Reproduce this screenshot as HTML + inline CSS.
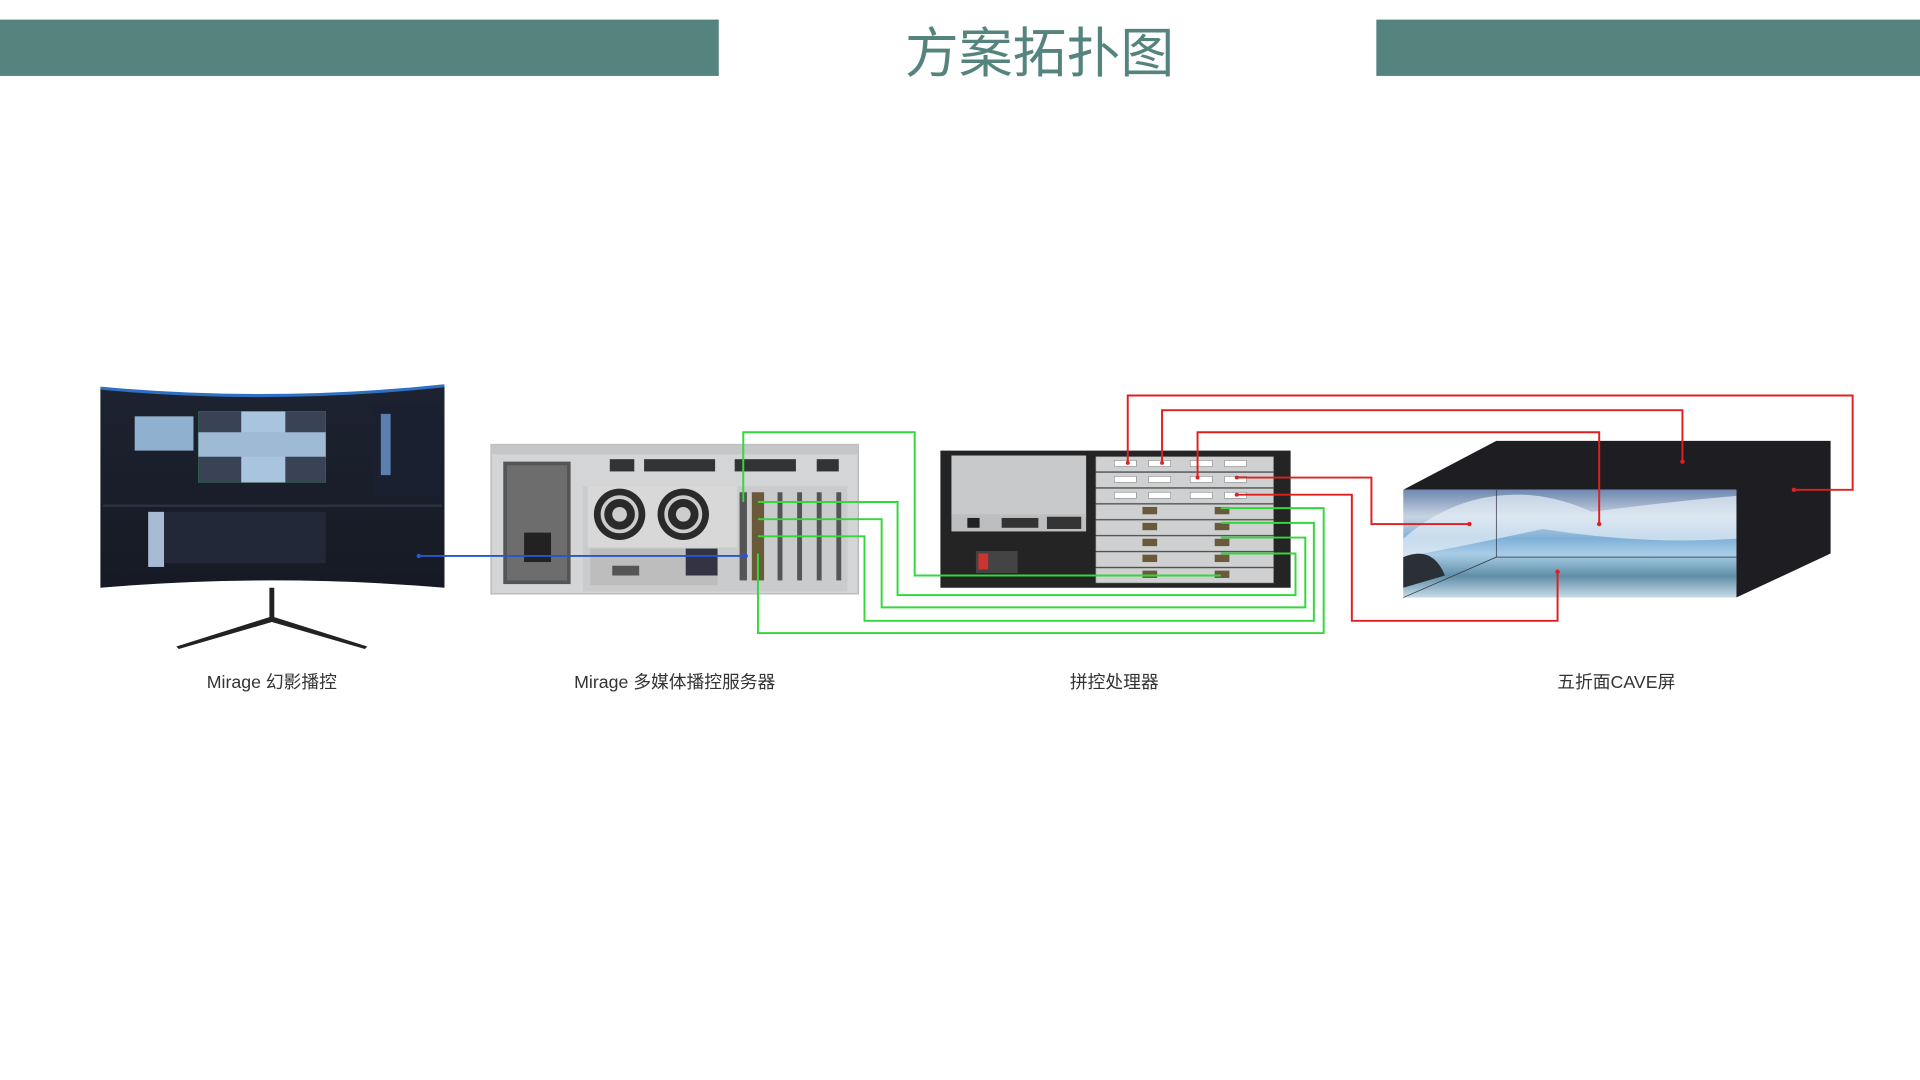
<!DOCTYPE html>
<html><head><meta charset="utf-8"><style>
html,body{margin:0;padding:0;background:#fff;}
svg{display:block;}
text{font-family:"Liberation Sans","Noto Sans CJK SC",sans-serif;}
</style></head><body>
<svg width="1920" height="1080" viewBox="0 0 1568 882" xmlns="http://www.w3.org/2000/svg">
<defs>
<linearGradient id="sky" x1="0" y1="0" x2="0" y2="1">
<stop offset="0" stop-color="#6f88b0"/><stop offset="0.25" stop-color="#c8d4e2"/><stop offset="0.45" stop-color="#7fb0d8"/><stop offset="0.6" stop-color="#a9cde6"/><stop offset="0.8" stop-color="#5f8ea8"/><stop offset="1" stop-color="#c7dbe7"/>
</linearGradient>
<linearGradient id="scr" x1="0" y1="0" x2="0" y2="1">
<stop offset="0" stop-color="#1d2230"/><stop offset="1" stop-color="#161a24"/>
</linearGradient>
<radialGradient id="fan"><stop offset="0" stop-color="#ddd"/><stop offset="1" stop-color="#bbb"/></radialGradient>
</defs>
<!-- header -->
<rect x="0" y="16" width="587" height="46" fill="#55847e"/>
<rect x="1124" y="16" width="444" height="46" fill="#55847e"/>
<text x="849" y="59" font-size="44" fill="#55847e" text-anchor="middle">方案拓扑图</text>

<!-- monitor -->
<path d="M82 317 Q222 330 363 315 L363 480 Q222 468 82 480 Z" fill="url(#scr)"/>
<path d="M82 317 Q222 330 363 315" stroke="#2f6fc4" stroke-width="2.5" fill="none"/>
<rect x="110" y="340" width="48" height="28" fill="#8fb0cf"/>
<rect x="162" y="336" width="104" height="58" fill="#3a4256" stroke="#2e6a4e" stroke-width="0.5"/>
<rect x="197" y="336" width="36" height="58" fill="#a8c4de"/>
<rect x="162" y="353" width="104" height="20" fill="#9fbad4"/>
<rect x="305" y="330" width="55" height="75" fill="#1b2030"/>
<rect x="311" y="338" width="8" height="50" fill="#5b7fb0"/>
<rect x="84" y="412" width="277" height="2" fill="#2b3142"/>
<rect x="121" y="418" width="13" height="45" fill="#a7bcd4"/>
<rect x="134" y="418" width="132" height="42" fill="#232838"/>
<path d="M220 480 L224 480 L224 504 L300 528 L298 530 L222 508 L146 530 L144 528 L220 504 Z" fill="#222"/>

<!-- server -->
<rect x="401" y="363" width="300" height="122" fill="#d3d5d6" stroke="#b5b7b8"/>
<rect x="401" y="363" width="300" height="8" fill="#c4c6c7"/>
<rect x="411" y="377" width="55" height="100" fill="#555"/>
<rect x="414" y="380" width="49" height="94" fill="#6d6d6d"/>
<rect x="428" y="435" width="22" height="24" fill="#222"/>
<g fill="#333">
<rect x="498" y="375" width="20" height="10"/><rect x="526" y="375" width="58" height="10"/><rect x="600" y="375" width="50" height="10"/><rect x="667" y="375" width="18" height="10"/>
</g>
<rect x="476" y="397" width="216" height="86" fill="#c9cbcd"/>
<rect x="480" y="397" width="122" height="50" fill="#d8d8d8"/>
<circle cx="506" cy="420" r="21" fill="#2a2a2a"/><circle cx="506" cy="420" r="14" fill="none" stroke="#ccc" stroke-width="3"/><circle cx="506" cy="420" r="6" fill="#ccc"/>
<circle cx="558" cy="420" r="21" fill="#2a2a2a"/><circle cx="558" cy="420" r="14" fill="none" stroke="#ccc" stroke-width="3"/><circle cx="558" cy="420" r="6" fill="#ccc"/>
<rect x="482" y="448" width="104" height="30" fill="#bdbdbd"/>
<rect x="500" y="462" width="22" height="8" fill="#555"/>
<rect x="560" y="448" width="26" height="22" fill="#334"/>
<g fill="#555"><rect x="604" y="402" width="6" height="72"/><rect x="614" y="402" width="10" height="72" fill="#6b5a3a"/><rect x="635" y="402" width="4" height="72"/><rect x="651" y="402" width="4" height="72"/><rect x="667" y="402" width="4" height="72"/><rect x="683" y="402" width="4" height="72"/></g>

<!-- processor -->
<rect x="768" y="368" width="286" height="112" fill="#242424"/>
<rect x="777" y="372" width="110" height="50" fill="#c8c9ca"/>
<rect x="777" y="420" width="110" height="14" fill="#bdbebf"/>
<rect x="790" y="423" width="10" height="8" fill="#222"/><rect x="818" y="423" width="30" height="8" fill="#333"/><rect x="855" y="422" width="28" height="10" fill="#333"/>
<rect x="797" y="450" width="34" height="18" fill="#444"/><rect x="799" y="452" width="8" height="13" fill="#c33"/>
<g fill="#cfd0d1" stroke="#999" stroke-width="0.5">
<rect x="895" y="373" width="145" height="12"/><rect x="895" y="386" width="145" height="12"/><rect x="895" y="399" width="145" height="12"/><rect x="895" y="412" width="145" height="12"/><rect x="895" y="425" width="145" height="12"/><rect x="895" y="438" width="145" height="12"/><rect x="895" y="451" width="145" height="12"/><rect x="895" y="464" width="145" height="12"/>
</g>
<g fill="#fff" stroke="#888" stroke-width="0.5">
<rect x="910" y="376" width="18" height="5"/><rect x="938" y="376" width="18" height="5"/><rect x="972" y="376" width="18" height="5"/><rect x="1000" y="376" width="18" height="5"/>
<rect x="910" y="389" width="18" height="5"/><rect x="938" y="389" width="18" height="5"/><rect x="972" y="389" width="18" height="5"/><rect x="1000" y="389" width="18" height="5"/>
<rect x="910" y="402" width="18" height="5"/><rect x="938" y="402" width="18" height="5"/><rect x="972" y="402" width="18" height="5"/><rect x="1000" y="402" width="18" height="5"/>
</g>
<g fill="#6a5a3c"><rect x="933" y="414" width="12" height="6"/><rect x="992" y="414" width="12" height="6"/><rect x="933" y="427" width="12" height="6"/><rect x="992" y="427" width="12" height="6"/><rect x="933" y="440" width="12" height="6"/><rect x="992" y="440" width="12" height="6"/><rect x="933" y="453" width="12" height="6"/><rect x="992" y="453" width="12" height="6"/><rect x="933" y="466" width="12" height="6"/><rect x="992" y="466" width="12" height="6"/></g>

<!-- CAVE -->
<polygon points="1146,400 1222,360 1495,360 1495,452 1418,488 1418,400" fill="#1e1d22"/>
<rect x="1146" y="400" width="272" height="88" fill="url(#sky)"/>
<path d="M1146 440 Q1180 410 1222 405 Q1260 400 1300 418 Q1360 410 1418 405 L1418 440 Q1340 445 1260 432 Q1200 445 1146 455Z" fill="#e6eef6" opacity="0.7"/>
<path d="M1146 455 Q1170 445 1180 470 L1146 480Z" fill="#2a3036"/>
<line x1="1222" y1="400" x2="1222" y2="455" stroke="#334" stroke-width="0.6"/>
<line x1="1222" y1="455" x2="1418" y2="455" stroke="#334" stroke-width="0.6"/>
<line x1="1146" y1="488" x2="1222" y2="455" stroke="#334" stroke-width="0.6"/>

<!-- connectors -->
<g fill="none" stroke-width="1.6">
<line x1="342" y1="454" x2="609" y2="454" stroke="#2456d6"/>
<g stroke="#33d83a">
<polyline points="607,410 607,353 747,353 747,470 997,470"/>
<polyline points="619,410 733,410 733,486 1058,486 1058,452 997,452"/>
<polyline points="619,424 720,424 720,496 1066,496 1066,439 997,439"/>
<polyline points="619,438 706,438 706,507 1073,507 1073,427 997,427"/>
<polyline points="619,452 619,517 1081,517 1081,415 997,415"/>
</g>
<g stroke="#e02020">
<polyline points="921,378 921,323 1513,323 1513,400 1465,400"/>
<polyline points="949,378 949,335 1374,335 1374,377"/>
<polyline points="978,390 978,353 1306,353 1306,428"/>
<polyline points="1010,390 1120,390 1120,428 1200,428"/>
<polyline points="1010,404 1104,404 1104,507 1272,507 1272,467"/>
</g>
</g>
<g fill="#e02020"><circle cx="1465" cy="400" r="1.8"/><circle cx="1374" cy="377" r="1.8"/><circle cx="1306" cy="428" r="1.8"/><circle cx="1200" cy="428" r="1.8"/><circle cx="1272" cy="467" r="1.8"/><circle cx="921" cy="378" r="1.6"/><circle cx="949" cy="378" r="1.6"/><circle cx="978" cy="390" r="1.6"/><circle cx="1010" cy="390" r="1.6"/><circle cx="1010" cy="404" r="1.6"/></g>
<g fill="#2456d6"><circle cx="342" cy="454" r="1.8"/><circle cx="609" cy="454" r="1.8"/></g>

<!-- labels -->
<g font-size="14.5" fill="#333" text-anchor="middle">
<text x="222" y="562">Mirage 幻影播控</text>
<text x="551" y="562">Mirage 多媒体播控服务器</text>
<text x="910" y="562">拼控处理器</text>
<text x="1320" y="562">五折面CAVE屏</text>
</g>
</svg>
</body></html>
